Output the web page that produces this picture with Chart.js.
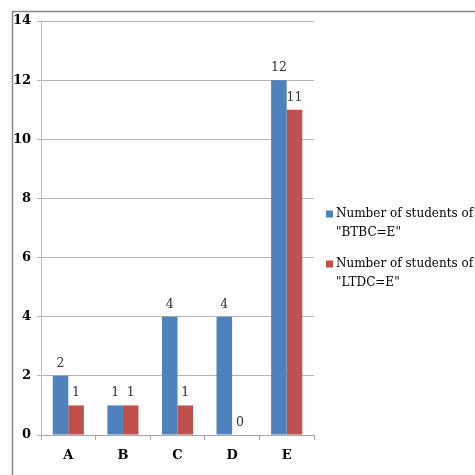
<!DOCTYPE html>
<html><head><meta charset="utf-8">
<script src="https://cdn.jsdelivr.net/npm/chart.js@4/dist/chart.umd.min.js"></script>
<style>html,body{margin:0;padding:0;background:#fff;}#wrap{width:475px;height:475px;position:relative;}</style>
</head><body><div id="wrap"><canvas id="c" width="475" height="475"></canvas></div>
<script>
const categories = ["A", "B", "C", "D", "E"];
const seriesNames = ['Number of students of "BTBC=E"', 'Number of students of "LTDC=E"'];
const legendLines = [['Number of students of', '"BTBC=E"'], ['Number of students of', '"LTDC=E"']];
const btbcValues = [2, 1, 4, 4, 12];
const ltdcValues = [1, 1, 1, 0, 11];
const yTicks = [0, 2, 4, 6, 8, 10, 12, 14];

const SERIF = '"DejaVu Serif", "Liberation Serif", serif';

const framePlugin = {
  id: 'frame',
  beforeDraw(chart) {
    const ctx = chart.ctx;
    ctx.save();
    ctx.fillStyle = '#fff';
    ctx.fillRect(0, 0, chart.width, chart.height);
    ctx.strokeStyle = '#8a8a8a';
    ctx.lineWidth = 1.5;
    ctx.beginPath();
    ctx.moveTo(12.5, chart.height);
    ctx.lineTo(12.5, 11.5);
    ctx.lineTo(chart.width, 11.5);
    ctx.stroke();
    ctx.restore();
  }
};

const labelPlugin = {
  id: 'vals',
  afterDatasetsDraw(chart) {
    const ctx = chart.ctx;
    ctx.save();
    ctx.font = '12.5px ' + SERIF;
    ctx.fillStyle = '#333';
    ctx.textAlign = 'center';
    ctx.textBaseline = 'bottom';
    chart.data.datasets.forEach((ds, i) => {
      const meta = chart.getDatasetMeta(i);
      meta.data.forEach((el, j) => {
        ctx.fillText(String(ds.data[j]), el.x, el.y - 6);
      });
    });
    ctx.restore();
  }
};

const legendPlugin = {
  id: 'customLegend',
  afterDraw(chart) {
    const ctx = chart.ctx;
    const area = chart.chartArea;
    ctx.save();
    ctx.font = '12px ' + SERIF;
    ctx.fillStyle = '#000';
    ctx.textBaseline = 'middle';
    ctx.textAlign = 'left';
    const x0 = area.right + 12;
    const startY = 214;
    chart.data.datasets.forEach((ds, i) => {
      const y = startY + i * 50;
      ctx.fillStyle = ds.backgroundColor;
      ctx.fillRect(x0, y - 3.5, 7, 7);
      ctx.fillStyle = '#000';
      legendLines[i].forEach((ln, k) => {
        ctx.fillText(ln, x0 + 10, y + k * 19);
      });
    });
    ctx.restore();
  }
};

new Chart(document.getElementById('c'), {
  type: 'bar',
  data: {
    labels: categories,
    datasets: [
      { label: seriesNames[0], data: btbcValues, backgroundColor: '#4f81bd', categoryPercentage: 0.57, barPercentage: 1.0 },
      { label: seriesNames[1], data: ltdcValues, backgroundColor: '#c0504d', categoryPercentage: 0.57, barPercentage: 1.0 }
    ]
  },
  options: {
    responsive: false,
    animation: false,
    devicePixelRatio: 1,
    layout: { padding: { left: 0, top: 21, right: 161, bottom: 0 } },
    plugins: { legend: { display: false }, tooltip: { enabled: false } },
    scales: {
      x: {
        afterFit(s) { s.height = 40; },
        grid: { drawOnChartArea: false, color: '#a6a6a6', tickLength: 5, offset: true },
        border: { color: '#a6a6a6' },
        ticks: { color: '#000', font: { family: SERIF, size: 13, weight: 'bold' }, padding: 8 }
      },
      y: {
        min: 0, max: 14,
        afterFit(s) { s.width = 41; },
        afterBuildTicks(s) { s.ticks = yTicks.map(v => ({ value: v })); },
        grid: { color: '#b4b4b4', tickLength: 4 },
        border: { color: '#bdbdbd' },
        ticks: { color: '#000', font: { family: SERIF, size: 13, weight: 'bold' }, padding: 6 }
      }
    }
  },
  plugins: [framePlugin, labelPlugin, legendPlugin]
});
</script>
</body></html>
